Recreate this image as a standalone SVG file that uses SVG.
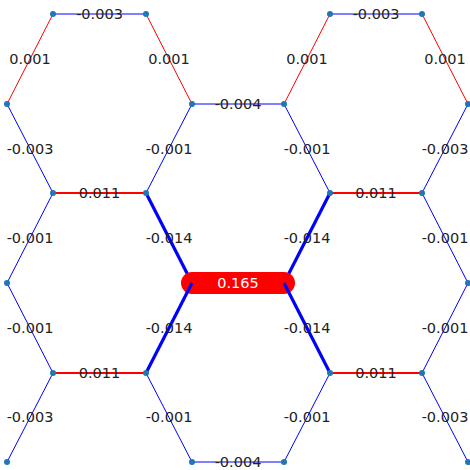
<svg xmlns="http://www.w3.org/2000/svg" width="470" height="470" viewBox="0 0 470 470">
<style>
.e{fill:none;stroke-linecap:butt}
.b{stroke:#0000ff;stroke-width:1}
.r{stroke:#ff0000;stroke-width:1}
.r2{stroke:#ff0000;stroke-width:1.8}
.bt{stroke:#0000ff;stroke-width:3.2}
.pill{stroke:#ff0000;stroke-width:22;stroke-linecap:round}
.n{fill:#1f77b4}
.t{font-family:"DejaVu Sans",sans-serif;font-size:14.5px;fill:#222;text-anchor:middle}
.tw{font-family:"DejaVu Sans",sans-serif;font-size:14.5px;fill:#fff;text-anchor:middle}
</style>
<g id="n-c1"><circle class="n" cx="192" cy="283" r="3"/></g>
<g id="n-c2"><circle class="n" cx="284" cy="283" r="3"/></g>
<g id="connectors">
<line class="e b" x1="53" y1="14" x2="146" y2="14"/>
<line class="e r" x1="53" y1="14" x2="7" y2="104"/>
<line class="e r" x1="146" y1="14" x2="192" y2="104"/>
<line class="e b" x1="192" y1="104" x2="284" y2="104"/>
<line class="e r" x1="284" y1="104" x2="330" y2="14"/>
<line class="e b" x1="330" y1="14" x2="422" y2="14"/>
<line class="e r" x1="422" y1="14" x2="468" y2="104"/>
<line class="e b" x1="7" y1="104" x2="53" y2="193"/>
<line class="e b" x1="192" y1="104" x2="146" y2="193"/>
<line class="e b" x1="284" y1="104" x2="330" y2="193"/>
<line class="e b" x1="468" y1="104" x2="422" y2="193"/>
<line class="e r2" x1="53" y1="193" x2="146" y2="193"/>
<line class="e r2" x1="330" y1="193" x2="422" y2="193"/>
<line class="e b" x1="53" y1="193" x2="7" y2="283"/>
<line class="e bt" x1="146" y1="193" x2="192" y2="283"/>
<line class="e bt" x1="330" y1="193" x2="284" y2="283"/>
<line class="e b" x1="422" y1="193" x2="468" y2="283"/>
<line class="pill" x1="192" y1="283" x2="284" y2="283"/>
<line class="e b" x1="7" y1="283" x2="53" y2="373"/>
<line class="e bt" x1="192" y1="283" x2="146" y2="373"/>
<line class="e bt" x1="284" y1="283" x2="330" y2="373"/>
<line class="e b" x1="468" y1="283" x2="422" y2="373"/>
<line class="e r2" x1="53" y1="373" x2="146" y2="373"/>
<line class="e r2" x1="330" y1="373" x2="422" y2="373"/>
<line class="e b" x1="53" y1="373" x2="7" y2="462"/>
<line class="e b" x1="146" y1="373" x2="192" y2="462"/>
<line class="e b" x1="330" y1="373" x2="284" y2="462"/>
<line class="e b" x1="422" y1="373" x2="468" y2="462"/>
<line class="e b" x1="192" y1="462" x2="284" y2="462"/>
</g>
<g id="n1"><circle class="n" cx="53" cy="14" r="3"/></g>
<g id="n2"><circle class="n" cx="146" cy="14" r="3"/></g>
<g id="n3"><circle class="n" cx="330" cy="14" r="3"/></g>
<g id="n4"><circle class="n" cx="422" cy="14" r="3"/></g>
<g id="n5"><circle class="n" cx="7" cy="104" r="3"/></g>
<g id="n6"><circle class="n" cx="192" cy="104" r="3"/></g>
<g id="n7"><circle class="n" cx="284" cy="104" r="3"/></g>
<g id="n8"><circle class="n" cx="468" cy="104" r="3"/></g>
<g id="n9"><circle class="n" cx="53" cy="193" r="3"/></g>
<g id="n10"><circle class="n" cx="146" cy="193" r="3"/></g>
<g id="n11"><circle class="n" cx="330" cy="193" r="3"/></g>
<g id="n12"><circle class="n" cx="422" cy="193" r="3"/></g>
<g id="n13"><circle class="n" cx="7" cy="283" r="3"/></g>
<g id="n14"><circle class="n" cx="468" cy="283" r="3"/></g>
<g id="n15"><circle class="n" cx="53" cy="373" r="3"/></g>
<g id="n16"><circle class="n" cx="146" cy="373" r="3"/></g>
<g id="n17"><circle class="n" cx="330" cy="373" r="3"/></g>
<g id="n18"><circle class="n" cx="422" cy="373" r="3"/></g>
<g id="n19"><circle class="n" cx="7" cy="462" r="3"/></g>
<g id="n20"><circle class="n" cx="192" cy="462" r="3"/></g>
<g id="n21"><circle class="n" cx="284" cy="462" r="3"/></g>
<g id="n22"><circle class="n" cx="468" cy="462" r="3"/></g>
<g id="labels">
<text class="t" x="99.5" y="19">-0.003</text>
<text class="t" x="376" y="19">-0.003</text>
<text class="t" x="30" y="64">0.001</text>
<text class="t" x="169" y="64">0.001</text>
<text class="t" x="307" y="64">0.001</text>
<text class="t" x="445" y="64">0.001</text>
<text class="t" x="238" y="109">-0.004</text>
<text class="t" x="30" y="154">-0.003</text>
<text class="t" x="169" y="154">-0.001</text>
<text class="t" x="307" y="154">-0.001</text>
<text class="t" x="445" y="154">-0.003</text>
<text class="t" x="99.5" y="198">0.011</text>
<text class="t" x="376" y="198">0.011</text>
<text class="t" x="30" y="243">-0.001</text>
<text class="t" x="169" y="243">-0.014</text>
<text class="t" x="307" y="243">-0.014</text>
<text class="t" x="445" y="243">-0.001</text>
<text class="tw" x="238" y="288">0.165</text>
<text class="t" x="30" y="333">-0.001</text>
<text class="t" x="169" y="333">-0.014</text>
<text class="t" x="307" y="333">-0.014</text>
<text class="t" x="445" y="333">-0.001</text>
<text class="t" x="99.5" y="378">0.011</text>
<text class="t" x="376" y="378">0.011</text>
<text class="t" x="30" y="422">-0.003</text>
<text class="t" x="169" y="422">-0.001</text>
<text class="t" x="307" y="422">-0.001</text>
<text class="t" x="445" y="422">-0.003</text>
<text class="t" x="238" y="467">-0.004</text>
</g>
</svg>
